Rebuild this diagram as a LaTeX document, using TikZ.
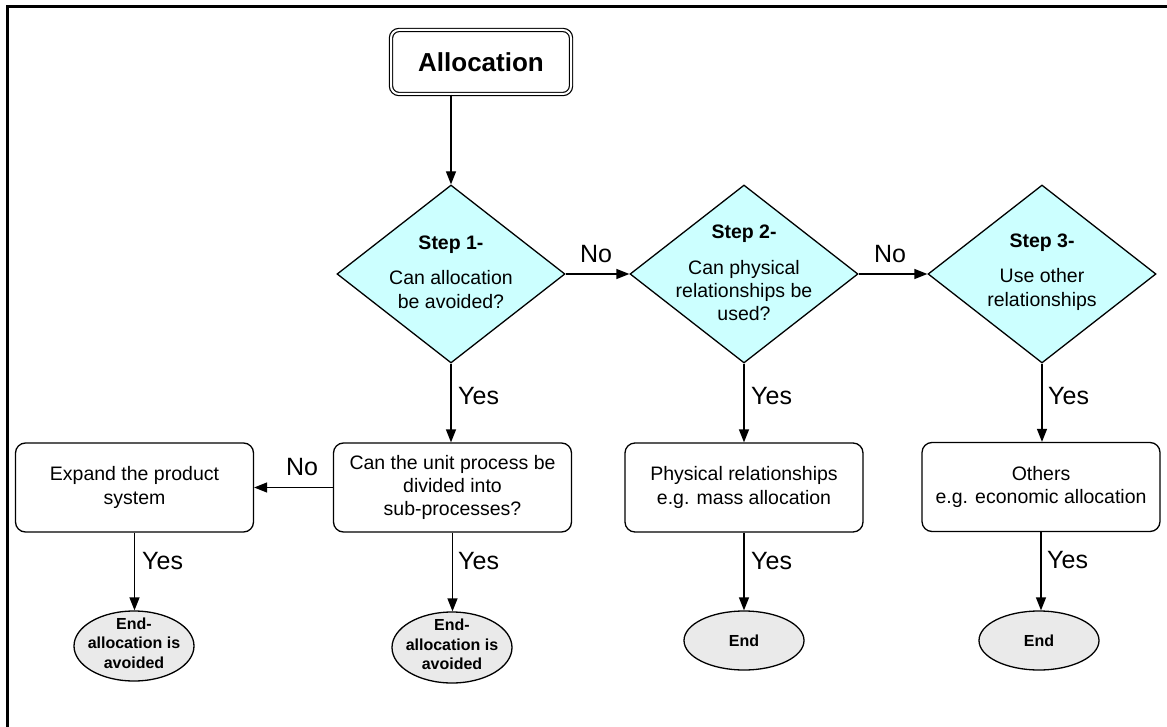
\documentclass[tikz,border=0pt]{standalone}
\usepackage{fontspec}
\setmainfont{Liberation Sans}
\usetikzlibrary{shapes.geometric,arrows.meta}

\definecolor{stepfill}{HTML}{CCFFFF}
\definecolor{endfill}{HTML}{EAEAEA}

\begin{document}
\begin{tikzpicture}[x=1pt,y=-1pt,
  every node/.style={font=\fontsize{19.5}{23.3}\selectfont},
  conn/.style={line width=1.3pt,-{Triangle[length=13pt,width=10pt]}},
  startbox/.style={draw,double,double distance=2pt,line width=1.2pt,rounded corners=8pt,
    minimum width=180pt,minimum height=64pt,inner sep=0pt,
    font=\bfseries\fontsize{26}{30}\selectfont},
  decision/.style={diamond,draw,line width=1.3pt,fill=stepfill,
    minimum width=228pt,minimum height=178pt,inner sep=0pt},
  steptext/.style={align=center,inner sep=0pt},
  stepbox/.style={draw,line width=1.3pt,rounded corners=10pt,
    minimum width=238pt,minimum height=89pt,align=center,inner sep=0pt},
  terminal/.style={ellipse,draw,line width=1.3pt,fill=endfill,inner sep=0pt,minimum width=120pt},
  termtext/.style={align=center,inner sep=0pt,font=\bfseries\fontsize{16}{19.5}\selectfont},
  lbl/.style={font=\fontsize{25}{28}\selectfont,inner sep=0pt},
]
\clip (0,0) rectangle (1167,727);

% frame
\draw[line width=3pt] (7,7) rectangle (1190,750);

% start
\node[startbox] (alloc) at (481,62) {Allocation};

% decisions
\node[decision] (d1) at (451,274) {};
\node[decision] (d2) at (744,274) {};
\node[decision] (d3) at (1042,274) {};
\node[steptext] (d1t) at (451,272) {\textbf{Step 1-}\\[12pt]Can allocation\\be avoided?};
\node[steptext] (d2t) at (744,273) {\textbf{Step 2-}\\[12pt]Can physical\\relationships be\\used?};
\node[steptext] (d3t) at (1042,272) {\textbf{Step 3-}\\[12pt]Use other\\relationships};

% process boxes
\node[stepbox] (b1) at (134.5,487.5) {Expand the product\\system};
\node[stepbox] (b2) at (452.5,487.5) {Can the unit process be\\divided into\\sub-processes?};
\node[stepbox] (b3) at (744,487.5) {Physical relationships\\e.g. mass allocation};
\node[stepbox] (b4) at (1041,487) {Others\\e.g. economic allocation};

% end points
\node[terminal,minimum height=70pt] (e1) at (134,646) {};
\node[terminal,minimum height=71pt] (e2) at (452,647.5) {};
\node[terminal,minimum height=59pt] (e3) at (744,640.5) {};
\node[terminal,minimum height=59pt] (e4) at (1039,640.5) {};
\node[termtext] (e1t) at (134,643) {End-\\allocation is\\avoided};
\node[termtext] (e2t) at (452,644.5) {End-\\allocation is\\avoided};
\node[termtext] (e3t) at (744,640.5) {End};
\node[termtext] (e4t) at (1039,640.5) {End};

% connectors
\draw[conn] (d1.north |- alloc.south) -- (d1.north);
\draw[conn] (d1.east) -- (d2.west);
\draw[conn] (d2.east) -- (d3.west);
\draw[conn] (d1.south) -- (d1.south |- b2.north);
\draw[conn] (d2.south) -- (d2.south |- b3.north);
\draw[conn] (d3.south) -- (d3.south |- b4.north);
\draw[conn] (b2.west) -- (b1.east);
\draw[conn] (b1.south) -- (b1.south |- e1.north);
\draw[conn] (b2.south) -- (b2.south |- e2.north);
\draw[conn] (b3.south) -- (b3.south |- e3.north);
\draw[conn] (b4.south) -- (b4.south |- e4.north);

% labels
\node[lbl] (no1) at (596,254) {No};
\node[lbl] (no2) at (890,254) {No};
\node[lbl] (no3) at (302,467) {No};
\node[lbl,anchor=west] (y1) at (458,396) {Yes};
\node[lbl,anchor=west] (y2) at (751,396) {Yes};
\node[lbl,anchor=west] (y3) at (1048,396) {Yes};
\node[lbl,anchor=west] (y4) at (142,561) {Yes};
\node[lbl,anchor=west] (y5) at (458,561) {Yes};
\node[lbl,anchor=west] (y6) at (751,561) {Yes};
\node[lbl,anchor=west] (y7) at (1047,560) {Yes};
\end{tikzpicture}
\end{document}
